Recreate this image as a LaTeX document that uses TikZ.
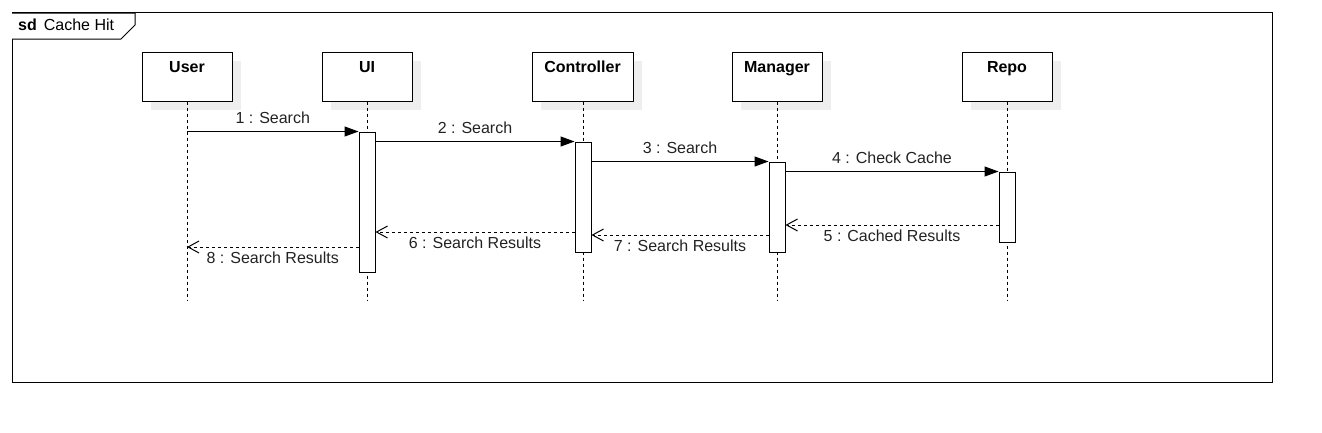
\documentclass[tikz,border=0pt]{standalone}
\usepackage{fontspec}
\setmainfont{Liberation Sans}
\usetikzlibrary{arrows.meta}
\definecolor{shadowgray}{HTML}{EEEEEE}
\definecolor{msgtext}{HTML}{222222}
\begin{document}
\begin{tikzpicture}[x=1pt,y=-1pt,
  every node/.style={font=\fontsize{16}{19}\selectfont},
  headbox/.style={draw=black, line width=1pt, fill=white, minimum width=90pt, minimum height=49pt, inner sep=0pt},
  shadowbox/.style={fill=shadowgray, draw=none, minimum width=90pt, minimum height=49pt, inner sep=0pt},
  actbar/.style={draw=black, line width=1pt, fill=white, minimum width=16pt, inner sep=0pt},
  lifeline/.style={draw=black, line width=1pt, dash pattern=on 3pt off 3pt},
  callmsg/.style={draw=black, line width=1pt, -{Triangle[length=14pt,width=10pt]}},
  retmsg/.style={draw=black, line width=1pt, dash pattern=on 3pt off 3pt, -{Straight Barb[length=11pt,width=12pt,line width=1pt]}},
  msglbl/.style={text=msgtext, inner sep=0pt},
  titlelbl/.style={anchor=north, yshift=-9.5pt, font=\fontsize{16}{19}\selectfont\bfseries, inner sep=0pt}
]
\useasboundingbox (0,0) rectangle (1322,432);

% frame
\draw[line width=1pt] (12,12) rectangle (1272,382);
\draw[line width=1pt, fill=white] (12,13) -- (135,13) -- (135,25) -- (121,39) -- (12,39);
\node[anchor=west, inner sep=0pt] (sdlbl) at (18,25) {\textbf{sd}\hspace{7pt}Cache Hit};

% shadows
\node[shadowbox] (usersh) at (196,85.5) {};
\node[shadowbox] (uish) at (376,85.5) {};
\node[shadowbox, minimum width=101pt] (ctrlsh) at (591.5,85.5) {};
\node[shadowbox] (mgrsh) at (786,85.5) {};
\node[shadowbox] (reposh) at (1016,85.5) {};

% head boxes
\node[headbox, label={[titlelbl]north:User}] (user) at (187,76.5) {};
\node[headbox, label={[titlelbl]north:UI}] (ui) at (367,76.5) {};
\node[headbox, minimum width=101pt, label={[titlelbl]north:Controller}] (ctrl) at (582.5,76.5) {};
\node[headbox, label={[titlelbl]north:Manager}] (mgr) at (777,76.5) {};
\node[headbox, label={[titlelbl]north:Repo}] (repo) at (1007,76.5) {};

% lifeline ends
\coordinate (userend) at (187,300);
\coordinate (uiend) at (367,300);
\coordinate (ctrlend) at (583,300);
\coordinate (mgrend) at (777,300);
\coordinate (repoend) at (1007,300);

\draw[lifeline] (user.south) -- (userend);
\draw[lifeline] (ui.south) -- (uiend);
\draw[lifeline] (ctrl.south -| ctrlend) -- (ctrlend);
\draw[lifeline] (mgr.south) -- (mgrend);
\draw[lifeline] (repo.south) -- (repoend);

% activation bars
\node[actbar, minimum height=140pt] (uibar) at (367,202) {};
\node[actbar, minimum height=110pt] (ctrlbar) at (583,197) {};
\node[actbar, minimum height=90pt] (mgrbar) at (777,207) {};
\node[actbar, minimum height=70pt] (repobar) at (1007,207) {};

% calls
\draw[callmsg] (user.south |- uibar.north) -- node[msglbl, midway, yshift=14pt] (m1) {1 : Search} (uibar.north west);
\draw[callmsg] (uibar.east |- ctrlbar.north) -- node[msglbl, midway, yshift=14pt] (m2) {2 : Search} (ctrlbar.north west);
\draw[callmsg] (ctrlbar.east |- mgrbar.north) -- node[msglbl, midway, yshift=14pt] (m3) {3 : Search} (mgrbar.north west);
\draw[callmsg] (mgrbar.east |- repobar.north) -- node[msglbl, midway, yshift=14pt] (m4) {4 : Check Cache} (repobar.north west);

% returns
\coordinate (r5) at (0,225);
\coordinate (r6) at (0,232);
\coordinate (r7) at (0,235);
\coordinate (r8) at (0,247);
\draw[retmsg] (repobar.west |- r5) -- node[msglbl, midway, yshift=-11pt] (m5) {5 : Cached Results} (mgrbar.east |- r5);
\draw[retmsg] (ctrlbar.west |- r6) -- node[msglbl, midway, yshift=-11pt] (m6) {6 : Search Results} (uibar.east |- r6);
\draw[retmsg] (mgrbar.west |- r7) -- node[msglbl, midway, yshift=-11pt] (m7) {7 : Search Results} (ctrlbar.east |- r7);
\draw[retmsg] (uibar.west |- r8) -- node[msglbl, midway, yshift=-11pt] (m8) {8 : Search Results} (user.south |- r8);
\end{tikzpicture}
\end{document}
